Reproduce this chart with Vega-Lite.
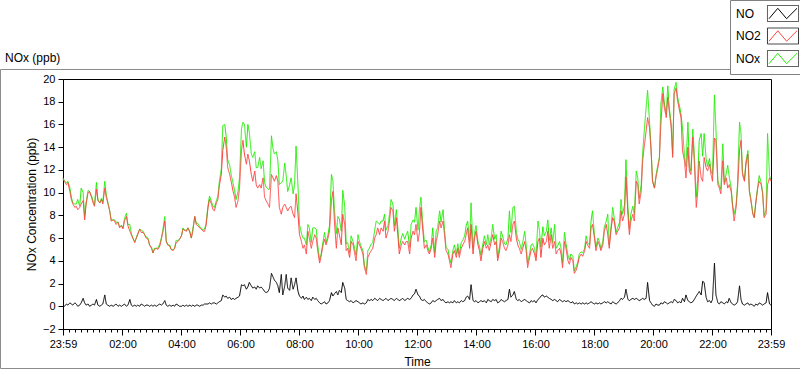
{
"$schema": "https://vega.github.io/schema/vega-lite/v6.json",
"autosize": "none",
"width": 708, "height": 250,
"padding": {"left": 63, "top": 79, "right": 29, "bottom": 40},
"background": "white",
"config": {
  "view": {"stroke": "#000000", "strokeWidth": 1},
  "font": "Liberation Sans",
  "axis": {"grid": false, "domainColor": "#000000", "tickColor": "#000000", "labelColor": "#000000", "titleColor": "#000000", "labelFont": "Liberation Sans", "titleFont": "Liberation Sans", "labelFontSize": 11, "titleFontSize": 12, "titleFontWeight": "normal", "labelOverlap": false},
  "axisY": {"labelOverlap": false, "labelBound": false, "labelFlush": false}
},
"title": {"text": "NOx (ppb)", "anchor": "start", "frame": "group", "dx": -58, "offset": -74, "baseline": "alphabetic", "fontSize": 12, "fontWeight": "normal", "font": "Liberation Sans", "color": "#000000"},
"data": {"values": [
{"t":0,"NO":0.1,"NO2":11.2,"NOx":11.3},{"t":3,"NO":0.0,"NO2":11.0,"NOx":11.0},{"t":7,"NO":0.2,"NO2":10.7,"NOx":10.9},{"t":10,"NO":0.1,"NO2":10.9,"NOx":11.0},{"t":14,"NO":0.3,"NO2":10.1,"NOx":10.4},{"t":17,"NO":0.2,"NO2":9.4,"NOx":9.6},{"t":20,"NO":0.1,"NO2":9.0,"NOx":9.1},{"t":24,"NO":0.3,"NO2":8.7,"NOx":9.0},{"t":27,"NO":0.2,"NO2":8.8,"NOx":9.0},{"t":30,"NO":0.0,"NO2":8.5,"NOx":9.4},
{"t":34,"NO":0.1,"NO2":8.7,"NOx":8.8},{"t":37,"NO":0.3,"NO2":9.0,"NOx":10.4},{"t":41,"NO":0.7,"NO2":9.3,"NOx":10.0},{"t":44,"NO":0.3,"NO2":7.6,"NOx":7.9},{"t":47,"NO":0.1,"NO2":9.0,"NOx":9.1},{"t":51,"NO":0.2,"NO2":10.0,"NOx":10.2},{"t":54,"NO":0.0,"NO2":10.1,"NOx":10.1},{"t":58,"NO":0.1,"NO2":9.6,"NOx":9.7},{"t":61,"NO":0.2,"NO2":9.1,"NOx":9.3},{"t":64,"NO":0.1,"NO2":8.8,"NOx":8.9},
{"t":68,"NO":0.6,"NO2":10.3,"NOx":10.9},{"t":71,"NO":0.1,"NO2":9.3,"NOx":9.4},{"t":75,"NO":0.0,"NO2":9.1,"NOx":9.1},{"t":78,"NO":0.1,"NO2":9.4,"NOx":9.5},{"t":81,"NO":0.2,"NO2":9.0,"NOx":9.2},{"t":85,"NO":1.0,"NO2":10.4,"NOx":11.0},{"t":88,"NO":0.2,"NO2":9.6,"NOx":9.8},{"t":91,"NO":0.1,"NO2":9.1,"NOx":9.2},{"t":95,"NO":0.0,"NO2":8.4,"NOx":8.4},{"t":98,"NO":0.1,"NO2":7.5,"NOx":7.6},
{"t":102,"NO":0.0,"NO2":7.6,"NOx":7.6},{"t":105,"NO":0.1,"NO2":7.5,"NOx":7.6},{"t":108,"NO":0.2,"NO2":7.2,"NOx":7.4},{"t":112,"NO":0.0,"NO2":7.4,"NOx":7.4},{"t":115,"NO":0.1,"NO2":6.9,"NOx":7.0},{"t":119,"NO":0.0,"NO2":7.1,"NOx":7.1},{"t":122,"NO":0.1,"NO2":6.8,"NOx":6.9},{"t":125,"NO":0.2,"NO2":7.5,"NOx":7.7},{"t":129,"NO":0.0,"NO2":7.9,"NOx":8.2},{"t":132,"NO":0.1,"NO2":7.1,"NOx":7.2},
{"t":136,"NO":0.6,"NO2":6.6,"NOx":7.2},{"t":139,"NO":0.1,"NO2":6.3,"NOx":6.4},{"t":142,"NO":0.0,"NO2":6.0,"NOx":6.0},{"t":146,"NO":0.1,"NO2":5.6,"NOx":5.7},{"t":149,"NO":0.0,"NO2":6.0,"NOx":6.0},{"t":152,"NO":0.1,"NO2":6.3,"NOx":6.4},{"t":156,"NO":0.0,"NO2":6.8,"NOx":6.8},{"t":159,"NO":0.2,"NO2":6.5,"NOx":6.7},{"t":163,"NO":0.1,"NO2":6.5,"NOx":6.6},{"t":166,"NO":0.0,"NO2":6.3,"NOx":6.3},
{"t":169,"NO":0.1,"NO2":6.0,"NOx":6.1},{"t":173,"NO":0.1,"NO2":5.9,"NOx":6.0},{"t":176,"NO":0.0,"NO2":5.4,"NOx":5.4},{"t":180,"NO":0.1,"NO2":5.1,"NOx":5.2},{"t":183,"NO":0.0,"NO2":4.7,"NOx":4.7},{"t":186,"NO":0.1,"NO2":5.0,"NOx":5.1},{"t":190,"NO":0.0,"NO2":5.1,"NOx":5.1},{"t":193,"NO":0.1,"NO2":5.0,"NOx":5.1},{"t":197,"NO":0.2,"NO2":5.3,"NOx":5.5},{"t":200,"NO":0.1,"NO2":5.9,"NOx":6.0},
{"t":203,"NO":0.2,"NO2":6.5,"NOx":6.7},{"t":207,"NO":0.5,"NO2":7.5,"NOx":7.9},{"t":210,"NO":0.1,"NO2":5.7,"NOx":5.8},{"t":213,"NO":0.0,"NO2":5.4,"NOx":5.4},{"t":217,"NO":0.1,"NO2":5.3,"NOx":5.4},{"t":220,"NO":0.0,"NO2":5.0,"NOx":5.0},{"t":224,"NO":0.1,"NO2":4.9,"NOx":5.0},{"t":227,"NO":0.0,"NO2":5.1,"NOx":5.1},{"t":230,"NO":0.2,"NO2":5.6,"NOx":5.8},{"t":234,"NO":0.1,"NO2":5.7,"NOx":5.8},
{"t":237,"NO":0.0,"NO2":5.9,"NOx":5.9},{"t":241,"NO":0.0,"NO2":6.2,"NOx":6.2},{"t":244,"NO":0.1,"NO2":6.8,"NOx":6.9},{"t":247,"NO":0.0,"NO2":6.7,"NOx":6.7},{"t":251,"NO":0.1,"NO2":6.6,"NOx":6.7},{"t":254,"NO":0.0,"NO2":6.9,"NOx":6.9},{"t":258,"NO":0.1,"NO2":6.5,"NOx":6.6},{"t":261,"NO":0.0,"NO2":6.0,"NOx":6.0},{"t":264,"NO":0.1,"NO2":6.6,"NOx":6.8},{"t":268,"NO":0.0,"NO2":7.9,"NOx":7.9},
{"t":271,"NO":0.1,"NO2":7.2,"NOx":7.3},{"t":274,"NO":0.1,"NO2":7.1,"NOx":7.3},{"t":278,"NO":0.0,"NO2":6.9,"NOx":7.0},{"t":281,"NO":0.1,"NO2":6.8,"NOx":6.9},{"t":285,"NO":0.1,"NO2":6.6,"NOx":6.7},{"t":288,"NO":0.2,"NO2":6.6,"NOx":6.8},{"t":291,"NO":0.2,"NO2":7.1,"NOx":7.3},{"t":295,"NO":0.2,"NO2":8.7,"NOx":8.9},{"t":298,"NO":0.3,"NO2":9.4,"NOx":9.7},{"t":302,"NO":0.2,"NO2":9.0,"NOx":9.2},
{"t":305,"NO":0.3,"NO2":8.5,"NOx":8.8},{"t":308,"NO":0.3,"NO2":8.4,"NOx":8.7},{"t":312,"NO":0.2,"NO2":9.1,"NOx":9.3},{"t":315,"NO":0.3,"NO2":9.4,"NOx":9.7},{"t":318,"NO":0.4,"NO2":10.6,"NOx":11.0},{"t":322,"NO":0.5,"NO2":11.6,"NOx":12.1},{"t":325,"NO":1.0,"NO2":13.7,"NOx":15.9},{"t":329,"NO":0.8,"NO2":14.9,"NOx":16.0},{"t":332,"NO":0.9,"NO2":14.0,"NOx":14.9},{"t":335,"NO":0.7,"NO2":12.2,"NOx":12.9},
{"t":339,"NO":0.8,"NO2":11.6,"NOx":12.4},{"t":342,"NO":0.6,"NO2":11.0,"NOx":11.6},{"t":346,"NO":0.7,"NO2":10.1,"NOx":10.8},{"t":349,"NO":0.6,"NO2":9.6,"NOx":10.2},{"t":352,"NO":0.7,"NO2":8.7,"NOx":9.4},{"t":356,"NO":0.8,"NO2":9.3,"NOx":10.1},{"t":359,"NO":0.9,"NO2":10.4,"NOx":11.3},{"t":363,"NO":1.9,"NO2":13.7,"NOx":15.6},{"t":366,"NO":1.8,"NO2":14.6,"NOx":16.2},{"t":369,"NO":1.9,"NO2":13.4,"NOx":16.0},
{"t":373,"NO":1.5,"NO2":12.5,"NOx":14.0},{"t":376,"NO":1.7,"NO2":13.4,"NOx":16.0},{"t":379,"NO":2.1,"NO2":12.8,"NOx":15.3},{"t":383,"NO":1.8,"NO2":11.6,"NOx":13.4},{"t":386,"NO":1.6,"NO2":11.0,"NOx":13.1},{"t":390,"NO":1.7,"NO2":11.9,"NOx":13.6},{"t":393,"NO":1.5,"NO2":10.7,"NOx":12.2},{"t":396,"NO":1.8,"NO2":10.4,"NOx":12.2},{"t":400,"NO":1.6,"NO2":10.7,"NOx":13.1},{"t":403,"NO":1.7,"NO2":10.4,"NOx":12.1},
{"t":407,"NO":1.5,"NO2":11.3,"NOx":12.8},{"t":410,"NO":1.3,"NO2":9.6,"NOx":10.9},{"t":413,"NO":1.2,"NO2":9.3,"NOx":10.5},{"t":417,"NO":1.3,"NO2":9.0,"NOx":10.3},{"t":420,"NO":1.6,"NO2":8.7,"NOx":10.3},{"t":424,"NO":2.9,"NO2":11.6,"NOx":15.0},{"t":427,"NO":2.6,"NO2":11.3,"NOx":13.9},{"t":430,"NO":2.3,"NO2":11.0,"NOx":13.4},{"t":434,"NO":2.1,"NO2":11.5,"NOx":13.6},{"t":437,"NO":1.8,"NO2":11.0,"NOx":12.8},
{"t":440,"NO":1.2,"NO2":8.7,"NOx":10.7},{"t":444,"NO":2.8,"NO2":8.1,"NOx":10.9},{"t":447,"NO":1.0,"NO2":8.7,"NOx":11.0},{"t":451,"NO":1.8,"NO2":9.0,"NOx":12.6},{"t":454,"NO":2.8,"NO2":8.7,"NOx":11.5},{"t":457,"NO":1.6,"NO2":8.4,"NOx":10.1},{"t":461,"NO":1.4,"NO2":8.7,"NOx":10.7},{"t":464,"NO":2.5,"NO2":8.8,"NOx":11.3},{"t":468,"NO":1.5,"NO2":8.1,"NOx":9.9},{"t":471,"NO":1.9,"NO2":7.8,"NOx":10.7},
{"t":474,"NO":2.5,"NO2":9.9,"NOx":14.1},{"t":478,"NO":1.3,"NO2":8.1,"NOx":10.5},{"t":481,"NO":0.9,"NO2":6.3,"NOx":7.2},{"t":485,"NO":0.7,"NO2":5.7,"NOx":6.4},{"t":488,"NO":0.9,"NO2":5.1,"NOx":6.0},{"t":491,"NO":0.6,"NO2":5.4,"NOx":6.0},{"t":495,"NO":0.8,"NO2":4.6,"NOx":5.4},{"t":498,"NO":0.6,"NO2":6.6,"NOx":7.2},{"t":501,"NO":0.7,"NO2":6.0,"NOx":6.9},{"t":505,"NO":0.5,"NO2":5.1,"NOx":5.6},
{"t":508,"NO":0.8,"NO2":5.7,"NOx":6.9},{"t":512,"NO":0.6,"NO2":6.3,"NOx":6.9},{"t":515,"NO":0.7,"NO2":6.0,"NOx":6.8},{"t":518,"NO":0.5,"NO2":4.9,"NOx":5.4},{"t":522,"NO":0.3,"NO2":3.8,"NOx":4.1},{"t":525,"NO":0.2,"NO2":4.4,"NOx":4.6},{"t":529,"NO":0.3,"NO2":5.4,"NOx":5.7},{"t":532,"NO":0.4,"NO2":5.9,"NOx":6.5},{"t":535,"NO":0.2,"NO2":5.4,"NOx":5.6},{"t":539,"NO":0.3,"NO2":6.0,"NOx":6.3},
{"t":542,"NO":0.5,"NO2":6.6,"NOx":7.1},{"t":546,"NO":1.2,"NO2":9.3,"NOx":11.6},{"t":549,"NO":0.9,"NO2":10.1,"NOx":11.0},{"t":552,"NO":1.1,"NO2":7.5,"NOx":8.6},{"t":556,"NO":1.3,"NO2":5.1,"NOx":6.4},{"t":559,"NO":1.0,"NO2":6.9,"NOx":7.9},{"t":562,"NO":1.4,"NO2":6.3,"NOx":7.7},{"t":566,"NO":1.2,"NO2":5.4,"NOx":6.6},{"t":569,"NO":2.1,"NO2":8.1,"NOx":10.2},{"t":573,"NO":1.6,"NO2":7.2,"NOx":8.8},
{"t":576,"NO":0.6,"NO2":4.9,"NOx":5.5},{"t":579,"NO":0.5,"NO2":5.1,"NOx":5.6},{"t":583,"NO":0.4,"NO2":4.3,"NOx":4.7},{"t":586,"NO":0.5,"NO2":5.7,"NOx":6.2},{"t":590,"NO":0.3,"NO2":5.4,"NOx":5.7},{"t":593,"NO":0.4,"NO2":4.7,"NOx":5.1},{"t":596,"NO":0.5,"NO2":4.0,"NOx":4.5},{"t":600,"NO":0.4,"NO2":5.7,"NOx":6.3},{"t":603,"NO":0.3,"NO2":5.4,"NOx":5.7},{"t":606,"NO":0.2,"NO2":5.1,"NOx":5.3},
{"t":610,"NO":0.3,"NO2":4.6,"NOx":4.9},{"t":613,"NO":0.2,"NO2":3.4,"NOx":3.6},{"t":617,"NO":0.3,"NO2":2.8,"NOx":3.1},{"t":620,"NO":0.6,"NO2":4.3,"NOx":4.9},{"t":623,"NO":0.5,"NO2":4.6,"NOx":5.1},{"t":627,"NO":0.6,"NO2":4.9,"NOx":5.5},{"t":630,"NO":0.5,"NO2":5.1,"NOx":5.6},{"t":634,"NO":0.7,"NO2":6.0,"NOx":6.7},{"t":637,"NO":0.6,"NO2":6.3,"NOx":7.5},{"t":640,"NO":0.5,"NO2":6.9,"NOx":7.4},
{"t":644,"NO":0.7,"NO2":6.3,"NOx":7.2},{"t":647,"NO":0.6,"NO2":6.9,"NOx":7.5},{"t":651,"NO":0.5,"NO2":6.6,"NOx":7.5},{"t":654,"NO":0.6,"NO2":7.5,"NOx":8.1},{"t":657,"NO":0.7,"NO2":6.0,"NOx":6.7},{"t":661,"NO":0.5,"NO2":6.6,"NOx":7.1},{"t":664,"NO":0.6,"NO2":7.5,"NOx":8.1},{"t":667,"NO":0.7,"NO2":8.7,"NOx":9.4},{"t":671,"NO":0.6,"NO2":8.4,"NOx":9.0},{"t":674,"NO":0.5,"NO2":6.6,"NOx":7.1},
{"t":678,"NO":0.7,"NO2":7.8,"NOx":8.5},{"t":681,"NO":0.6,"NO2":6.3,"NOx":6.9},{"t":684,"NO":0.5,"NO2":4.6,"NOx":5.1},{"t":688,"NO":0.6,"NO2":5.4,"NOx":6.0},{"t":691,"NO":0.7,"NO2":5.7,"NOx":6.4},{"t":695,"NO":0.5,"NO2":5.4,"NOx":5.9},{"t":698,"NO":0.6,"NO2":5.7,"NOx":6.3},{"t":701,"NO":0.7,"NO2":5.7,"NOx":6.6},{"t":705,"NO":0.6,"NO2":4.6,"NOx":5.2},{"t":708,"NO":0.7,"NO2":6.0,"NOx":7.2},
{"t":712,"NO":1.0,"NO2":6.6,"NOx":7.6},{"t":715,"NO":1.1,"NO2":6.3,"NOx":7.4},{"t":718,"NO":1.5,"NO2":7.2,"NOx":8.7},{"t":722,"NO":1.0,"NO2":5.7,"NOx":6.7},{"t":725,"NO":0.9,"NO2":6.5,"NOx":8.5},{"t":728,"NO":0.6,"NO2":8.7,"NOx":9.6},{"t":732,"NO":0.5,"NO2":6.6,"NOx":7.1},{"t":735,"NO":0.6,"NO2":5.1,"NOx":5.7},{"t":739,"NO":0.4,"NO2":5.4,"NOx":5.8},{"t":742,"NO":0.3,"NO2":4.9,"NOx":5.2},
{"t":745,"NO":0.2,"NO2":4.6,"NOx":4.8},{"t":749,"NO":0.3,"NO2":5.1,"NOx":5.4},{"t":752,"NO":0.5,"NO2":6.0,"NOx":6.9},{"t":756,"NO":0.4,"NO2":4.3,"NOx":4.7},{"t":759,"NO":0.5,"NO2":5.7,"NOx":6.6},{"t":762,"NO":0.6,"NO2":6.3,"NOx":6.9},{"t":766,"NO":0.7,"NO2":7.5,"NOx":8.4},{"t":769,"NO":0.5,"NO2":6.9,"NOx":7.4},{"t":773,"NO":0.6,"NO2":7.5,"NOx":8.5},{"t":776,"NO":0.4,"NO2":6.3,"NOx":6.7},
{"t":779,"NO":0.3,"NO2":4.9,"NOx":5.2},{"t":783,"NO":0.4,"NO2":4.6,"NOx":5.0},{"t":786,"NO":0.3,"NO2":4.0,"NOx":4.3},{"t":789,"NO":0.4,"NO2":3.4,"NOx":3.8},{"t":793,"NO":0.3,"NO2":4.6,"NOx":4.9},{"t":796,"NO":0.5,"NO2":4.9,"NOx":5.4},{"t":800,"NO":0.3,"NO2":4.3,"NOx":4.6},{"t":803,"NO":0.4,"NO2":5.1,"NOx":5.5},{"t":806,"NO":0.3,"NO2":4.3,"NOx":4.6},{"t":810,"NO":0.5,"NO2":5.1,"NOx":5.6},
{"t":813,"NO":0.4,"NO2":5.4,"NOx":5.8},{"t":817,"NO":0.5,"NO2":5.7,"NOx":6.2},{"t":820,"NO":0.8,"NO2":6.3,"NOx":7.1},{"t":823,"NO":0.9,"NO2":6.9,"NOx":7.5},{"t":827,"NO":0.6,"NO2":5.1,"NOx":5.7},{"t":830,"NO":1.9,"NO2":7.2,"NOx":9.1},{"t":834,"NO":0.5,"NO2":4.6,"NOx":5.1},{"t":837,"NO":0.4,"NO2":6.0,"NOx":6.4},{"t":840,"NO":0.5,"NO2":6.6,"NOx":7.1},{"t":844,"NO":0.3,"NO2":5.4,"NOx":5.7},
{"t":847,"NO":0.4,"NO2":4.9,"NOx":5.3},{"t":850,"NO":0.5,"NO2":4.0,"NOx":4.5},{"t":854,"NO":0.4,"NO2":5.1,"NOx":5.5},{"t":857,"NO":0.5,"NO2":5.7,"NOx":6.2},{"t":861,"NO":0.3,"NO2":5.1,"NOx":5.4},{"t":864,"NO":0.6,"NO2":5.4,"NOx":6.3},{"t":867,"NO":0.5,"NO2":4.9,"NOx":5.4},{"t":871,"NO":0.4,"NO2":5.7,"NOx":6.1},{"t":874,"NO":0.6,"NO2":6.3,"NOx":7.2},{"t":878,"NO":0.5,"NO2":5.4,"NOx":5.9},
{"t":881,"NO":0.6,"NO2":5.7,"NOx":6.3},{"t":884,"NO":0.3,"NO2":4.0,"NOx":4.3},{"t":888,"NO":0.4,"NO2":4.9,"NOx":5.3},{"t":891,"NO":0.6,"NO2":6.0,"NOx":6.6},{"t":894,"NO":0.5,"NO2":5.7,"NOx":6.2},{"t":898,"NO":0.4,"NO2":5.1,"NOx":5.5},{"t":901,"NO":0.5,"NO2":4.9,"NOx":5.4},{"t":905,"NO":0.6,"NO2":5.4,"NOx":6.0},{"t":908,"NO":1.5,"NO2":6.3,"NOx":8.4},{"t":911,"NO":0.8,"NO2":5.7,"NOx":6.5},
{"t":915,"NO":1.0,"NO2":7.2,"NOx":8.7},{"t":918,"NO":1.3,"NO2":7.5,"NOx":8.8},{"t":922,"NO":0.6,"NO2":6.0,"NOx":6.6},{"t":925,"NO":0.5,"NO2":5.4,"NOx":5.9},{"t":928,"NO":0.6,"NO2":5.1,"NOx":5.7},{"t":932,"NO":0.4,"NO2":4.6,"NOx":5.0},{"t":935,"NO":0.5,"NO2":5.1,"NOx":5.6},{"t":939,"NO":0.6,"NO2":5.7,"NOx":6.6},{"t":942,"NO":0.5,"NO2":4.9,"NOx":5.4},{"t":945,"NO":0.4,"NO2":3.4,"NOx":3.8},
{"t":949,"NO":0.3,"NO2":4.3,"NOx":4.6},{"t":952,"NO":0.5,"NO2":4.9,"NOx":5.4},{"t":955,"NO":0.4,"NO2":5.1,"NOx":5.5},{"t":959,"NO":0.5,"NO2":4.6,"NOx":5.1},{"t":962,"NO":0.3,"NO2":4.0,"NOx":4.3},{"t":966,"NO":0.6,"NO2":5.7,"NOx":7.5},{"t":969,"NO":0.7,"NO2":6.0,"NOx":6.7},{"t":972,"NO":0.9,"NO2":4.3,"NOx":5.2},{"t":976,"NO":1.0,"NO2":6.0,"NOx":7.0},{"t":979,"NO":0.8,"NO2":5.4,"NOx":6.2},
{"t":983,"NO":0.9,"NO2":5.7,"NOx":6.6},{"t":986,"NO":0.8,"NO2":6.6,"NOx":7.6},{"t":989,"NO":0.7,"NO2":5.1,"NOx":5.8},{"t":993,"NO":0.6,"NO2":6.3,"NOx":6.9},{"t":996,"NO":0.5,"NO2":5.1,"NOx":5.6},{"t":1000,"NO":0.6,"NO2":5.7,"NOx":7.2},{"t":1003,"NO":0.5,"NO2":4.6,"NOx":5.1},{"t":1006,"NO":0.4,"NO2":4.9,"NOx":5.3},{"t":1010,"NO":0.6,"NO2":5.1,"NOx":5.7},{"t":1013,"NO":0.5,"NO2":4.6,"NOx":5.1},
{"t":1016,"NO":0.4,"NO2":3.4,"NOx":3.8},{"t":1020,"NO":0.5,"NO2":5.7,"NOx":6.5},{"t":1023,"NO":0.4,"NO2":5.1,"NOx":5.5},{"t":1027,"NO":0.5,"NO2":4.0,"NOx":4.5},{"t":1030,"NO":0.4,"NO2":3.7,"NOx":4.1},{"t":1033,"NO":0.3,"NO2":4.3,"NOx":4.6},{"t":1037,"NO":0.4,"NO2":4.0,"NOx":4.4},{"t":1040,"NO":0.2,"NO2":2.9,"NOx":3.1},{"t":1044,"NO":0.3,"NO2":3.2,"NOx":3.5},{"t":1047,"NO":0.2,"NO2":3.7,"NOx":3.9},
{"t":1050,"NO":0.3,"NO2":4.3,"NOx":4.6},{"t":1054,"NO":0.2,"NO2":4.6,"NOx":4.8},{"t":1057,"NO":0.3,"NO2":4.4,"NOx":4.7},{"t":1061,"NO":0.2,"NO2":4.9,"NOx":5.1},{"t":1064,"NO":0.3,"NO2":5.7,"NOx":6.2},{"t":1067,"NO":0.2,"NO2":5.4,"NOx":5.6},{"t":1071,"NO":0.3,"NO2":5.1,"NOx":5.4},{"t":1074,"NO":0.4,"NO2":6.9,"NOx":7.5},{"t":1077,"NO":0.3,"NO2":7.2,"NOx":8.4},{"t":1081,"NO":0.2,"NO2":6.0,"NOx":6.2},
{"t":1084,"NO":0.3,"NO2":4.9,"NOx":5.2},{"t":1088,"NO":0.2,"NO2":5.7,"NOx":6.0},{"t":1091,"NO":0.3,"NO2":5.4,"NOx":5.7},{"t":1094,"NO":0.2,"NO2":4.9,"NOx":5.1},{"t":1098,"NO":0.3,"NO2":5.4,"NOx":5.7},{"t":1101,"NO":0.4,"NO2":6.6,"NOx":7.0},{"t":1105,"NO":0.3,"NO2":7.2,"NOx":7.5},{"t":1108,"NO":0.4,"NO2":6.3,"NOx":8.1},{"t":1111,"NO":0.3,"NO2":5.1,"NOx":5.4},{"t":1115,"NO":0.2,"NO2":6.9,"NOx":7.1},
{"t":1118,"NO":0.4,"NO2":7.8,"NOx":8.7},{"t":1121,"NO":0.3,"NO2":7.5,"NOx":7.8},{"t":1125,"NO":0.2,"NO2":6.3,"NOx":6.5},{"t":1128,"NO":0.3,"NO2":6.6,"NOx":6.9},{"t":1132,"NO":0.5,"NO2":6.9,"NOx":7.4},{"t":1135,"NO":0.7,"NO2":8.4,"NOx":9.4},{"t":1138,"NO":0.6,"NO2":7.5,"NOx":8.1},{"t":1142,"NO":0.8,"NO2":8.1,"NOx":8.9},{"t":1145,"NO":1.5,"NO2":11.4,"NOx":12.9},{"t":1149,"NO":0.6,"NO2":8.1,"NOx":8.7},
{"t":1152,"NO":0.5,"NO2":6.3,"NOx":6.8},{"t":1155,"NO":0.6,"NO2":7.5,"NOx":8.1},{"t":1159,"NO":0.7,"NO2":8.1,"NOx":8.8},{"t":1162,"NO":0.6,"NO2":7.5,"NOx":8.1},{"t":1166,"NO":0.7,"NO2":11.0,"NOx":11.9},{"t":1169,"NO":0.6,"NO2":10.7,"NOx":11.3},{"t":1172,"NO":0.5,"NO2":9.0,"NOx":9.5},{"t":1176,"NO":0.6,"NO2":10.1,"NOx":10.7},{"t":1179,"NO":0.7,"NO2":12.8,"NOx":13.5},{"t":1182,"NO":0.6,"NO2":14.0,"NOx":15.3},
{"t":1186,"NO":0.7,"NO2":15.4,"NOx":17.5},{"t":1189,"NO":2.1,"NO2":16.6,"NOx":19.0},{"t":1193,"NO":0.5,"NO2":15.7,"NOx":16.2},{"t":1196,"NO":0.3,"NO2":13.7,"NOx":14.0},{"t":1199,"NO":0.1,"NO2":11.0,"NOx":11.1},{"t":1203,"NO":0.0,"NO2":10.4,"NOx":10.4},{"t":1206,"NO":0.2,"NO2":11.3,"NOx":11.5},{"t":1210,"NO":0.1,"NO2":12.2,"NOx":12.5},{"t":1213,"NO":0.1,"NO2":13.0,"NOx":13.1},{"t":1216,"NO":0.3,"NO2":16.0,"NOx":17.8},
{"t":1220,"NO":0.2,"NO2":18.7,"NOx":19.3},{"t":1223,"NO":0.4,"NO2":17.5,"NOx":17.9},{"t":1227,"NO":0.3,"NO2":16.6,"NOx":16.9},{"t":1230,"NO":0.2,"NO2":18.4,"NOx":19.4},{"t":1233,"NO":0.3,"NO2":17.2,"NOx":17.5},{"t":1237,"NO":0.4,"NO2":15.7,"NOx":16.1},{"t":1240,"NO":0.3,"NO2":13.1,"NOx":13.4},{"t":1243,"NO":0.6,"NO2":18.7,"NOx":19.1},{"t":1247,"NO":0.5,"NO2":19.2,"NOx":19.7},{"t":1250,"NO":0.3,"NO2":18.1,"NOx":18.4},
{"t":1254,"NO":0.4,"NO2":17.2,"NOx":17.6},{"t":1257,"NO":0.3,"NO2":16.6,"NOx":16.9},{"t":1260,"NO":0.7,"NO2":13.7,"NOx":15.7},{"t":1264,"NO":0.4,"NO2":12.8,"NOx":13.2},{"t":1267,"NO":1.0,"NO2":11.3,"NOx":12.3},{"t":1271,"NO":0.5,"NO2":14.0,"NOx":16.2},{"t":1274,"NO":0.4,"NO2":11.9,"NOx":12.3},{"t":1277,"NO":0.3,"NO2":11.6,"NOx":11.9},{"t":1281,"NO":0.4,"NO2":14.9,"NOx":15.6},{"t":1284,"NO":0.6,"NO2":12.8,"NOx":13.4},
{"t":1288,"NO":0.9,"NO2":8.7,"NOx":9.6},{"t":1291,"NO":1.1,"NO2":10.1,"NOx":11.2},{"t":1294,"NO":1.3,"NO2":12.8,"NOx":14.6},{"t":1298,"NO":1.0,"NO2":11.3,"NOx":15.2},{"t":1301,"NO":2.2,"NO2":11.0,"NOx":13.2},{"t":1304,"NO":2.1,"NO2":13.1,"NOx":15.2},{"t":1308,"NO":0.8,"NO2":12.2,"NOx":13.0},{"t":1311,"NO":0.4,"NO2":11.9,"NOx":12.3},{"t":1315,"NO":0.5,"NO2":12.5,"NOx":13.0},{"t":1318,"NO":0.3,"NO2":11.6,"NOx":11.9},
{"t":1321,"NO":0.6,"NO2":11.0,"NOx":11.6},{"t":1325,"NO":3.8,"NO2":14.8,"NOx":18.6},{"t":1328,"NO":1.0,"NO2":14.6,"NOx":15.6},{"t":1332,"NO":0.3,"NO2":10.7,"NOx":11.0},{"t":1335,"NO":0.2,"NO2":10.4,"NOx":10.6},{"t":1338,"NO":0.4,"NO2":9.9,"NOx":10.3},{"t":1342,"NO":0.3,"NO2":12.8,"NOx":14.3},{"t":1345,"NO":0.2,"NO2":10.7,"NOx":10.9},{"t":1349,"NO":0.4,"NO2":11.3,"NOx":11.7},{"t":1352,"NO":0.3,"NO2":10.4,"NOx":12.4},
{"t":1355,"NO":0.7,"NO2":10.7,"NOx":11.4},{"t":1359,"NO":0.3,"NO2":10.1,"NOx":10.4},{"t":1362,"NO":0.2,"NO2":8.7,"NOx":8.9},{"t":1365,"NO":0.1,"NO2":7.5,"NOx":8.1},{"t":1369,"NO":0.2,"NO2":8.7,"NOx":8.9},{"t":1372,"NO":0.4,"NO2":10.4,"NOx":10.8},{"t":1376,"NO":1.8,"NO2":13.7,"NOx":16.2},{"t":1379,"NO":0.6,"NO2":14.6,"NOx":15.2},{"t":1382,"NO":0.2,"NO2":11.6,"NOx":11.8},{"t":1386,"NO":0.1,"NO2":11.0,"NOx":11.1},
{"t":1389,"NO":0.2,"NO2":12.5,"NOx":12.7},{"t":1393,"NO":0.3,"NO2":13.4,"NOx":13.7},{"t":1396,"NO":0.1,"NO2":10.1,"NOx":10.2},{"t":1399,"NO":0.2,"NO2":9.3,"NOx":9.5},{"t":1403,"NO":0.1,"NO2":8.1,"NOx":8.2},{"t":1406,"NO":0.0,"NO2":7.8,"NOx":7.8},{"t":1409,"NO":0.2,"NO2":9.0,"NOx":9.2},{"t":1413,"NO":0.1,"NO2":10.4,"NOx":10.5},{"t":1416,"NO":0.3,"NO2":11.0,"NOx":11.5},{"t":1420,"NO":0.2,"NO2":10.7,"NOx":10.9},
{"t":1423,"NO":0.1,"NO2":9.9,"NOx":10.0},{"t":1426,"NO":0.2,"NO2":7.8,"NOx":8.0},{"t":1430,"NO":0.3,"NO2":8.1,"NOx":8.4},{"t":1433,"NO":1.2,"NO2":10.7,"NOx":15.2},{"t":1437,"NO":0.2,"NO2":11.3,"NOx":11.5},{"t":1440,"NO":0.1,"NO2":11.0,"NOx":11.1}
]},
"encoding": {
  "x": {"field": "t", "type": "quantitative", "title": "Time",
    "scale": {"domain": [0, 1440], "nice": false, "zero": false},
    "axis": {
      "values": [0,13,25,37,49,61,73,85,97,109,121,133,145,157,169,181,193,205,217,229,241,253,265,277,289,301,313,325,337,349,361,373,385,397,409,421,433,445,457,469,481,493,505,517,529,541,553,565,577,589,601,613,625,637,649,661,673,685,697,709,721,733,745,757,769,781,793,805,817,829,841,853,865,877,889,901,913,925,937,949,961,973,985,997,1009,1021,1033,1045,1057,1069,1081,1093,1105,1117,1129,1141,1153,1165,1177,1189,1201,1213,1225,1237,1249,1261,1273,1285,1297,1309,1321,1333,1345,1357,1369,1381,1393,1405,1417,1429,1440],
      "labelExpr": "datum.value == 0 || datum.value == 1440 ? '23:59' : ((datum.value - 1) % 120 == 0 ? format((datum.value - 1) / 60, '02d') + ':00' : '')",
      "tickSize": {"condition": {"test": "datum.value == 0 || datum.value == 1440 || (datum.value - 1) % 120 == 0", "value": 6}, "value": 3},
      "labelOverlap": false, "labelFlush": false, "labelPadding": 3, "titlePadding": 7
    }
  }
},
"layer": [
  {"mark": {"type": "line", "strokeWidth": 1},
   "encoding": {
     "y": {"field": "NOx", "type": "quantitative", "title": "NOx Concentration (ppb)",
       "scale": {"domain": [-2, 20], "nice": false, "zero": false},
       "axis": {"values": [-2,0,2,4,6,8,10,12,14,16,18,20], "tickSize": 5, "labelPadding": 3, "titlePadding": 4, "labelOverlap": false, "labelBound": false, "labelFlush": false}},
     "color": {"datum": "NOx",
       "scale": {"domain": ["NO", "NO2", "NOx"], "range": ["#000000", "#ff4343", "#1eee00"]},
       "legend": {"orient": "none", "legendX": 667, "legendY": -79, "direction": "vertical", "title": null,
         "symbolType": "M-1.94,-1M1.94,1M-1.75,0.65L-0.65,-0.65L0.45,0.65L1.75,-0.65", "symbolSize": 256, "symbolStrokeWidth": 1,
         "symbolOffset": 39.5, "rowPadding": 1.5, "labelOffset": -55.5, "labelAlign": "left",
         "labelFontSize": 12, "labelFont": "Liberation Sans", "labelColor": "#000000",
         "strokeColor": "#808080", "fillColor": "#ffffff", "padding": 5, "zindex": 2,
         "encode": {"symbols": {"update": {"fill": {"value": "transparent"}}}}}
     },
     "strokeDash": {"datum": "NOx",
       "scale": {"domain": ["NOx", "NO2", "NO"], "range": [[1,0],[1,0],[1,0]]},
       "legend": {"orient": "none", "legendX": 667, "legendY": -79, "direction": "vertical", "title": null,
         "symbolType": "M-1.94,-1H1.94V1H-1.94Z", "symbolSize": 256, "symbolStrokeWidth": 1,
         "symbolStrokeColor": "#303030", "symbolFillColor": "transparent",
         "symbolOffset": 39.5, "rowPadding": 1.5, "labelOffset": -55.5, "labelAlign": "left",
         "labelFontSize": 12, "labelFont": "Liberation Sans", "labelColor": "transparent",
         "padding": 5, "zindex": 3,
         "encode": {"symbols": {"update": {"stroke": {"value": "#303030"}, "fill": {"value": "transparent"}, "opacity": {"value": 1}}}}}
     }
   }},
  {"mark": {"type": "line", "strokeWidth": 1},
   "encoding": {
     "y": {"field": "NO2", "type": "quantitative", "title": "NOx Concentration (ppb)", "axis": {"values": [-2,0,2,4,6,8,10,12,14,16,18,20], "labelOverlap": false}},
     "color": {"datum": "NO2"},
     "strokeDash": {"datum": "NO2"}
   }},
  {"mark": {"type": "line", "strokeWidth": 1},
   "encoding": {
     "y": {"field": "NO", "type": "quantitative", "title": "NOx Concentration (ppb)", "axis": {"values": [-2,0,2,4,6,8,10,12,14,16,18,20], "labelOverlap": false}},
     "color": {"datum": "NO"},
     "strokeDash": {"datum": "NO"},
     "opacity": {"datum": "frame", "type": "ordinal",
       "scale": {"domain": ["frame"], "range": [1, 1]},
       "legend": {"orient": "none", "legendX": -63, "legendY": -10, "title": null, "padding": 0,
         "symbolType": "square", "symbolSize": 638401, "symbolStrokeColor": "transparent", "symbolFillColor": "transparent",
         "clipHeight": 299, "labelExpr": "''", "labelOffset": 0, "labelFontSize": 1,
         "strokeColor": "#8c8c8c", "zindex": 1}
     }
   }}
]
}
